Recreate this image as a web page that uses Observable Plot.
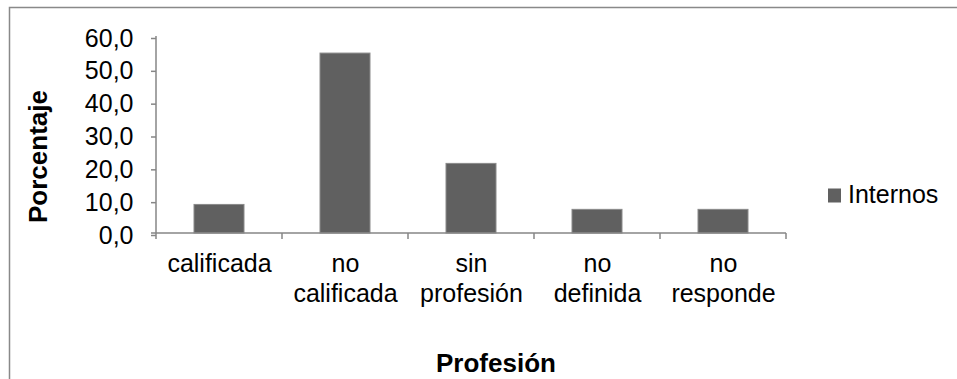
<!DOCTYPE html>
<html>
<head>
<meta charset="utf-8">
<script src="https://cdn.jsdelivr.net/npm/d3@7"></script>
<script src="https://cdn.jsdelivr.net/npm/@observablehq/plot@0.6"></script>
<style>
  html, body { margin: 0; padding: 0; background: #fff; }
  svg { display: block; }
</style>
</head>
<body>
<div id="chart"></div>
<script>
// Distribución de internos por profesión (%)
const categories = ["calificada", "no calificada", "sin profesión", "no definida", "no responde"];
const categoryLabels = ["calificada", "no\ncalificada", "sin\nprofesión", "no\ndefinida", "no\nresponde"];
const internos = [8.7, 54.8, 21.2, 7.2, 7.2];
const yTicks = [0, 10, 20, 30, 40, 50, 60];
const seriesName = "Internos";
const xTitle = "Profesión";
const yTitle = "Porcentaje";

const data = categories.map((c, i) => ({profesion: c, valor: internos[i]}));
const labelOf = new Map(categories.map((c, i) => [c, categoryLabels[i]]));
const fmt = v => v.toFixed(1).replace(".", ",");

const W = 957, H = 379;
const axisColor = "#868686";
const barColor = "#606060";

const chart = Plot.plot({
  width: W,
  height: H,
  marginLeft: 156,
  marginRight: 171,
  marginTop: 36,
  marginBottom: 146,
  style: {fontFamily: "'Liberation Sans', Arial, sans-serif", fontSize: "25px", color: "#000", background: "#fff"},
  x: {domain: categories, paddingInner: 0.6, paddingOuter: 0.3, label: null},
  y: {domain: [0, 60], label: null},
  marks: [
    Plot.barY(data, {x: "profesion", y: "valor", fill: barColor, stroke: "#8a8a8a", strokeWidth: 1}),
    Plot.axisY({ticks: yTicks, tickFormat: fmt, tickSize: 5, tickPadding: 18, stroke: axisColor, strokeWidth: 1.5, fontSize: 25, fill: "#000", dy: 2, label: null}),
    Plot.axisX({tickSize: 0, tickPadding: 17, tickFormat: d => labelOf.get(d), fontSize: 25, lineHeight: 1.2, fill: "#000", label: null})
  ]
});

document.getElementById("chart").appendChild(chart);

// Axis lines, category boundary ticks, titles, legend and outer border
const svg = d3.select(chart);
const xs = chart.scale("x");
const ys = chart.scale("y");
const [x0] = xs.range;
const yBase = ys.apply(0), yTop = ys.apply(60);
const gap = xs.step - xs.bandwidth;
const bounds = categories.map(c => xs.apply(c) - gap / 2);
bounds.push(xs.apply(categories[categories.length - 1]) + xs.bandwidth + gap / 2);

const g = svg.append("g").attr("text-anchor", "start");
g.append("line").attr("x1", x0).attr("x2", x0).attr("y1", yTop).attr("y2", yBase)
  .attr("stroke", axisColor).attr("stroke-width", 1.5);
g.append("line").attr("x1", x0 - 5).attr("x2", bounds[bounds.length - 1]).attr("y1", yBase).attr("y2", yBase)
  .attr("stroke", axisColor).attr("stroke-width", 1.5);
g.selectAll("line.bt").data(bounds).join("line")
  .attr("class", "bt")
  .attr("x1", d => d).attr("x2", d => d).attr("y1", yBase).attr("y2", yBase + 6)
  .attr("stroke", axisColor).attr("stroke-width", 1.5);

g.append("text").attr("x", 496).attr("y", 372).attr("text-anchor", "middle")
  .attr("font-weight", "bold").attr("font-size", 26).attr("fill", "#000").text(xTitle);
g.append("text").attr("transform", `translate(47,${(88 + 225) / 2}) rotate(-90)`).attr("text-anchor", "middle")
  .attr("font-weight", "bold").attr("font-size", 26).attr("fill", "#000").text(yTitle);

g.append("rect").attr("x", 828).attr("y", 188.5).attr("width", 13).attr("height", 14).attr("fill", barColor);
g.append("text").attr("x", 848).attr("y", 202.5).attr("text-anchor", "start")
  .attr("font-size", 25).attr("fill", "#000").text(seriesName);

g.append("path").attr("d", `M9.5,${H + 2}V7.5H${W + 2}`).attr("fill", "none")
  .attr("stroke", "#898989").attr("stroke-width", 1.5);
</script>
</body>
</html>
